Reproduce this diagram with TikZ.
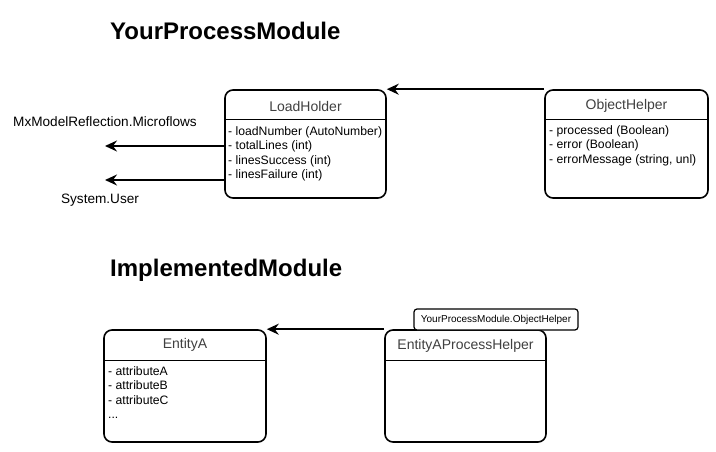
\documentclass[tikz,border=0pt]{standalone}
\usepackage{fontspec}
\setmainfont{Liberation Sans}
\usetikzlibrary{arrows.meta}

\tikzstyle{entity}=[draw=black,line width=1.6pt,rounded corners=8pt,fill=white,minimum width=161pt,minimum height=108pt,inner sep=0pt]
\tikzstyle{header}=[text=black!75,inner sep=0pt,font=\fontsize{14}{16}\selectfont]
\tikzstyle{attrs}=[anchor=north west,align=left,inner sep=0pt,font=\fontsize{12.2}{14.5}\selectfont]
\tikzstyle{module}=[anchor=west,inner sep=0pt,font=\bfseries\fontsize{24}{28}\selectfont]
\tikzstyle{extref}=[inner sep=0pt,font=\fontsize{13.6}{16}\selectfont]
\tikzstyle{assoc}=[line width=1.6pt,-{Stealth[length=12pt,width=11pt,inset=4pt]}]
\tikzstyle{sep}=[line width=1pt]
\tikzstyle{tag}=[draw=black,line width=1.2pt,rounded corners=3pt,fill=white,minimum width=164pt,minimum height=21pt,inner sep=0pt,font=\fontsize{10}{12}\selectfont]

\begin{document}
\begin{tikzpicture}[x=1pt,y=-1pt]
			\useasboundingbox (0,0) rectangle (716,452);
			% module titles
			\node (yourmod) at (110,31) [module] {YourProcessModule};
			\node (implmod) at (110,270) [module] {ImplementedModule};
			% YourProcessModule entities
			\node (loadholder) at (305.5,144) [entity] {};
			\node (loadholder title) at (305.5,106) [header] {LoadHolder};
			\node (loadholder attrs) at (228,126) [attrs] {- loadNumber (AutoNumber)\\- totalLines (int)\\- linesSuccess (int)\\- linesFailure (int)};
			\node (objhelper) at (626.5,144) [entity,minimum width=163pt] {};
			\node (objhelper title) at (626.5,106) [header] {ObjectHelper};
			\node (objhelper attrs) at (549,125) [attrs] {- processed (Boolean)\\- error (Boolean)\\- errorMessage (string, unl)};
			\draw[sep] ([yshift=-30pt]loadholder.north west) -- ([yshift=-30pt]loadholder.north east);
			\draw[sep] ([yshift=-30pt]objhelper.north west) -- ([yshift=-30pt]objhelper.north east);
			% references to other modules
			\node (microflows) at (105,122) [extref] {MxModelReflection.Microflows};
			\node (sysuser) at (100,200) [extref] {System.User};
			\coordinate (microflows end) at (105,146);
			\coordinate (sysuser end) at (105,180);
			\draw[assoc] (objhelper.north west) -- (loadholder.north east);
			\draw[assoc] (loadholder.west |- microflows end) -- (microflows end);
			\draw[assoc] (loadholder.west |- sysuser end) -- (sysuser end);
			% ImplementedModule entities
			\node (entitya) at (185,386) [entity,minimum width=162pt,minimum height=112pt] {};
			\node (entitya title) at (185,345) [header] {EntityA};
			\node (entitya attrs) at (108,366) [attrs] {- attributeA\\- attributeB\\- attributeC\\...};
			\node (eaphelper) at (465.5,386) [entity,minimum height=112pt] {};
			\node (eaphelper title) at (465.5,346) [header] {EntityAProcessHelper};
			\draw[sep] ([yshift=-31pt]entitya.north west) -- ([yshift=-31pt]entitya.north east);
			\draw[sep] ([yshift=-31pt]eaphelper.north west) -- ([yshift=-31pt]eaphelper.north east);
			\node (eaphelper tag) at (496,319.5) [tag] {YourProcessModule.ObjectHelper};
			\draw[assoc] (eaphelper.north west) -- (entitya.north east);
		\end{tikzpicture}
\end{document}
